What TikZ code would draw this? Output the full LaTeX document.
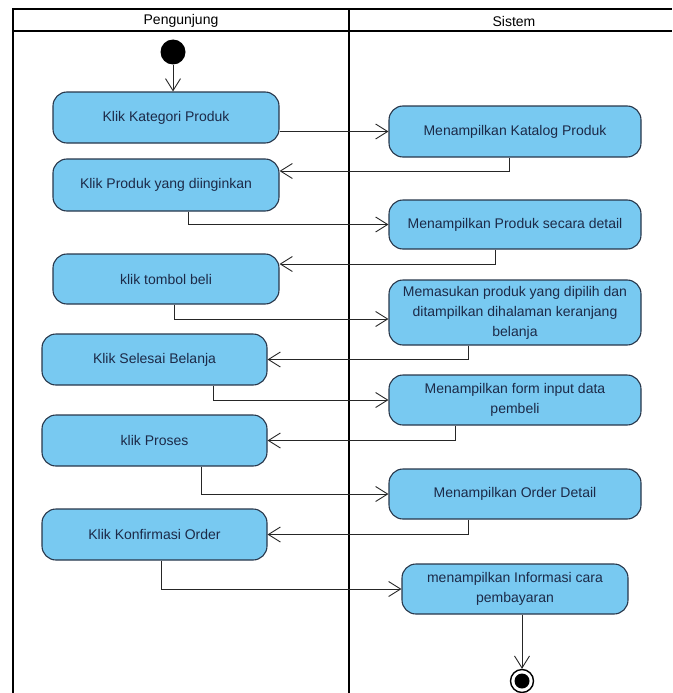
\documentclass[tikz,border=0pt]{standalone}
\usepackage{fontspec}
\setmainfont{Liberation Sans}
\usetikzlibrary{positioning,arrows.meta,calc}
\definecolor{actFill}{RGB}{120,201,241}
\definecolor{actLine}{RGB}{40,55,75}
\definecolor{actText}{RGB}{28,42,72}
\tikzset{
    % Swimlane borders
    lane line/.style={
        line width=1.6pt,
        color=black
    },
    % Lane titles
    lane label/.style={
        font=\fontsize{14}{16}\selectfont,
        text=black
    },
    % Activity boxes
    activity/.style={
        draw=actLine,
        fill=actFill,
        line width=1.1pt,
        rounded corners=14pt,
        text=actText,
        font=\fontsize{14}{20}\selectfont,
        align=center,
        inner sep=0pt
    },
    % Control flow
    flow/.style={
        -{Straight Barb[length=12pt,width=15pt]},
        line width=0.9pt,
        color=black!85
    }
}

\begin{document}
\begin{tikzpicture}[x=1pt,y=-1pt]

% Set the canvas size
\useasboundingbox (0,0) rectangle (672,693);

% Swimlanes
\draw[lane line] (13,693) -- (13,9) -- (672,9);
\draw[lane line] (13,31) -- (672,31);
\draw[lane line] (349,9) -- (349,693);
\node[lane label] (visitor) at (181,21) {Pengunjung};
\node[lane label] (system) at (514,21) {Sistem};

% Start and end
\node[circle, fill=black, minimum size=25pt, inner sep=0pt] (start) at (173,52) {};
\node[circle, draw=black, line width=1.4pt, minimum size=23pt, inner sep=0pt] (stop) at (522,681) {};
\fill[black] (stop) circle (7.5);

% Activities of the visitor
\node[activity, minimum width=226pt, minimum height=51pt] (n1) at (166,117.5) {Klik Kategori Produk};
\node[activity, minimum width=226pt, minimum height=52pt] (n2) at (166,185) {Klik Produk yang diinginkan};
\node[activity, minimum width=226pt, minimum height=50pt] (n3) at (166,279) {klik tombol beli};
\node[activity, minimum width=225pt, minimum height=51pt] (n4) at (154.5,359.5) {Klik Selesai Belanja};
\node[activity, minimum width=225pt, minimum height=51pt] (n5) at (154.5,440.5) {klik Proses};
\node[activity, minimum width=225pt, minimum height=51pt] (n6) at (154.5,534.5) {Klik Konfirmasi Order};

% Activities of the system
\node[activity, minimum width=252pt, minimum height=51pt] (r1) at (515,131.5) {Menampilkan Katalog Produk};
\node[activity, minimum width=252pt, minimum height=49pt] (r2) at (515,224.5) {Menampilkan Produk secara detail};
\node[activity, minimum width=252pt, minimum height=65pt] (r3) at (515,312.5) {Memasukan produk yang dipilih dan\\ditampilkan dihalaman keranjang\\belanja};
\node[activity, minimum width=252pt, minimum height=50pt] (r4) at (515,400) {Menampilkan form input data\\pembeli};
\node[activity, minimum width=252pt, minimum height=50pt] (r5) at (515,494) {Menampilkan Order Detail};
\node[activity, minimum width=226pt, minimum height=50pt] (r6) at (515,589) {menampilkan Informasi cara\\pembayaran};

% Flows
\draw[flow] (start) -- (start |- n1.north);
\draw[flow] (n1.east |- r1.west) -- (r1.west);
\draw[flow] ([xshift=-6pt]r1.south) |- ([yshift=14pt]n2.east);
\draw[flow] ([xshift=22pt]n2.south) |- (r2.west);
\draw[flow] ([xshift=-20pt]r2.south) |- ([yshift=15pt]n3.east);
\draw[flow] ([xshift=8pt]n3.south) |- ([yshift=-6.5pt]r3.west);
\draw[flow] ([xshift=-47pt]r3.south) |- (n4.east);
\draw[flow] ([xshift=58.5pt]n4.south) |- (r4.west);
\draw[flow] ([xshift=-60pt]r4.south) |- (n5.east);
\draw[flow] ([xshift=46.5pt]n5.south) |- (r5.west);
\draw[flow] ([xshift=-47pt]r5.south) |- (n6.east);
\draw[flow] ([xshift=6.5pt]n6.south) |- (r6.west);
\draw[flow] ([xshift=7pt]r6.south) -- (stop);

\end{tikzpicture}
\end{document}
